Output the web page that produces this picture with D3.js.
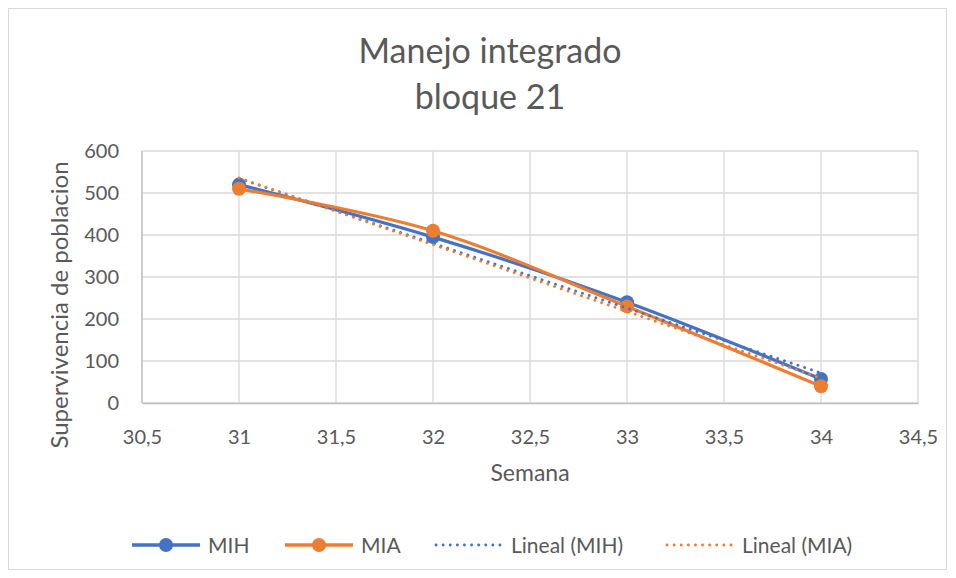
<!DOCTYPE html>
<html>
<head>
<meta charset="utf-8">
<script src="https://cdn.jsdelivr.net/npm/d3@7"></script>
<style>
  body { margin: 0; background: #fff; }
  text { font-family: Lato, "Open Sans", sans-serif; fill: #595959; }
</style>
</head>
<body>
<svg class="chart"></svg>
<script>
// Data
var semanas = [31, 32, 33, 34];
var mih = [520, 395, 240, 57];
var mia = [510, 410, 230, 40];
var xTicks = [30.5, 31, 31.5, 32, 32.5, 33, 33.5, 34, 34.5];
var yTicks = [0, 100, 200, 300, 400, 500, 600];

var w = 956, h = 578;
var svg = d3.select(".chart").attr("width", w).attr("height", h);

// chart border
svg.append("rect")
  .attr("x", 8.5).attr("y", 8.5)
  .attr("width", 938).attr("height", 561)
  .attr("fill", "#fff").attr("stroke", "#d9d9d9");

var margin = { top: 151, left: 142, right: 38, bottom: 175 },
    width = w - margin.left - margin.right,
    height = h - margin.top - margin.bottom,
    g = svg.append("g").attr("transform", "translate(" + margin.left + "," + margin.top + ")");

var x = d3.scaleLinear().domain([30.5, 34.5]).range([0, width]);
var y = d3.scaleLinear().domain([0, 600]).range([height, 0]);

var fmt = function(d) { return String(d).replace(".", ","); };

// grid
g.selectAll(".hg").data(yTicks).enter().append("line")
  .attr("x1", 0).attr("x2", width)
  .attr("y1", function(d) { return y(d); }).attr("y2", function(d) { return y(d); })
  .attr("stroke", "#d9d9d9").attr("stroke-width", 1.3);
g.selectAll(".vg").data(xTicks).enter().append("line")
  .attr("y1", 0).attr("y2", height)
  .attr("x1", function(d) { return x(d); }).attr("x2", function(d) { return x(d); })
  .attr("stroke", "#d9d9d9").attr("stroke-width", 1.3);

// axes
var xAxis = g.append("g").attr("transform", "translate(0," + height + ")")
  .call(d3.axisBottom(x).tickValues(xTicks).tickFormat(fmt).tickSize(0).tickPadding(24));
var yAxis = g.append("g")
  .call(d3.axisLeft(y).tickValues(yTicks).tickSize(0).tickPadding(23));
[xAxis, yAxis].forEach(function(a) {
  a.select(".domain").attr("stroke", "#bfbfbf").attr("stroke-width", 1.3);
  a.selectAll("text").style("font-size", "20px").attr("fill", "#595959")
    .style("font-family", "Lato, 'Open Sans', sans-serif");
});
xAxis.selectAll("text").attr("dy", "0.35em").attr("y", 34);
yAxis.select(".domain").remove();
g.append("line").attr("x1", 0).attr("x2", 0).attr("y1", 0).attr("y2", height)
  .attr("stroke", "#bfbfbf").attr("stroke-width", 1.3);

// titles
svg.append("text").attr("x", 490).attr("y", 63).attr("text-anchor", "middle")
  .style("font-size", "34px").text("Manejo integrado");
svg.append("text").attr("x", 490).attr("y", 109).attr("text-anchor", "middle")
  .style("font-size", "34px").text("bloque 21");
svg.append("text").attr("x", 530).attr("y", 481).attr("text-anchor", "middle")
  .style("font-size", "23px").text("Semana");
svg.append("text").attr("transform", "translate(68,305) rotate(-90)")
  .attr("text-anchor", "middle").style("font-size", "24px").text("Supervivencia de poblacion");

// linear fit
function linreg(xs, ys) {
  var mx = d3.mean(xs), my = d3.mean(ys);
  var num = d3.sum(xs, function(v, i) { return (v - mx) * (ys[i] - my); });
  var den = d3.sum(xs, function(v) { return (v - mx) * (v - mx); });
  var b = num / den;
  return function(v) { return my + b * (v - mx); };
}

var series = [
  { name: "MIH", vals: mih, color: "#4472c4" },
  { name: "MIA", vals: mia, color: "#ed7d31" }
];

var line = d3.line()
  .x(function(d) { return x(d[0]); })
  .y(function(d) { return y(d[1]); })
  .curve(d3.curveCatmullRom.alpha(0));

series.forEach(function(s) {
  var pts = semanas.map(function(v, i) { return [v, s.vals[i]]; });
  g.append("path").datum(pts)
    .attr("fill", "none").attr("stroke", s.color)
    .attr("stroke-width", 3.2).attr("stroke-linejoin", "round")
    .attr("d", line);
  g.selectAll(".m" + s.name).data(pts).enter().append("circle")
    .attr("cx", function(d) { return x(d[0]); })
    .attr("cy", function(d) { return y(d[1]); })
    .attr("r", 7).attr("fill", s.color);
});

series.forEach(function(s) {
  var f = linreg(semanas, s.vals);
  var x0 = semanas[0], x1 = semanas[semanas.length - 1];
  g.append("line")
    .attr("x1", x(x0)).attr("y1", y(f(x0)))
    .attr("x2", x(x1)).attr("y2", y(f(x1)))
    .attr("stroke", s.color).attr("stroke-width", 2.8)
    .attr("stroke-linecap", "round").attr("stroke-dasharray", "0.1,7");
});

// legend
var leg = svg.append("g").attr("transform", "translate(0,545)");
var items = [
  { label: "MIH", color: "#4472c4", x: 132, dotted: false },
  { label: "MIA", color: "#ed7d31", x: 285, dotted: false },
  { label: "Lineal (MIH)", color: "#4472c4", x: 436, dotted: true },
  { label: "Lineal (MIA)", color: "#ed7d31", x: 667, dotted: true }
];
items.forEach(function(it) {
  if (it.dotted) {
    leg.append("line").attr("x1", it.x).attr("x2", it.x + 64)
      .attr("stroke", it.color).attr("stroke-width", 2.8)
      .attr("stroke-linecap", "round").attr("stroke-dasharray", "0.1,7");
    leg.append("text").attr("x", it.x + 75).attr("y", 7.5)
      .style("font-size", "21px").text(it.label);
  } else {
    leg.append("line").attr("x1", it.x).attr("x2", it.x + 68)
      .attr("stroke", it.color).attr("stroke-width", 3.5);
    leg.append("circle").attr("cx", it.x + 34).attr("r", 7).attr("fill", it.color);
    leg.append("text").attr("x", it.x + 76).attr("y", 7.5)
      .style("font-size", "21px").text(it.label);
  }
});
</script>
</body>
</html>
